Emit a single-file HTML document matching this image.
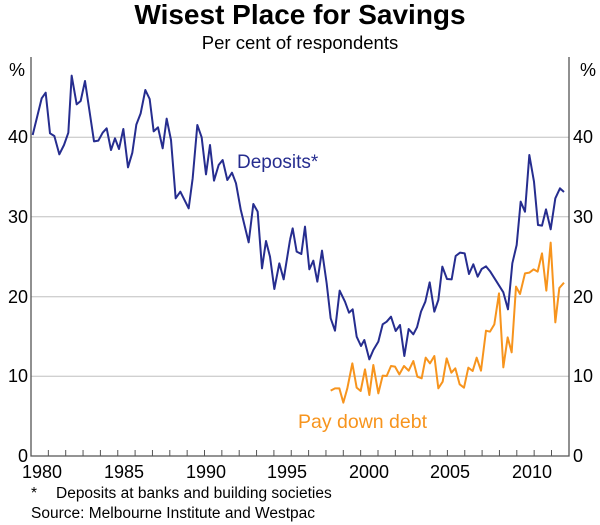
<!DOCTYPE html>
<html><head><meta charset="utf-8"><style>
body{margin:0;background:#fff;}
svg{display:block;font-family:"Liberation Sans",Arial,sans-serif;}
</style></head><body>
<svg width="600" height="525" viewBox="0 0 600 525">
<text x="300" y="24" text-anchor="middle" font-size="28" font-weight="bold" fill="#000">Wisest Place for Savings</text>
<text x="300" y="49" text-anchor="middle" font-size="18.5" fill="#000">Per cent of respondents</text>
<g stroke="#d0d0d0" stroke-width="1.3">
<line x1="31" y1="137.3" x2="569" y2="137.3"/>
<line x1="31" y1="216.7" x2="569" y2="216.7"/>
<line x1="31" y1="296.7" x2="569" y2="296.7"/>
<line x1="31" y1="376.3" x2="569" y2="376.3"/>
</g>
<g stroke="#555" stroke-width="1.3" fill="none">
<polyline points="31,57 31,456 569,456 569,57"/>
</g>
<g stroke="#555" stroke-width="1">
<line x1="48.35" y1="456" x2="48.35" y2="450"/><line x1="65.7" y1="456" x2="65.7" y2="450"/><line x1="83.05" y1="456" x2="83.05" y2="450"/><line x1="100.4" y1="456" x2="100.4" y2="450"/><line x1="117.75" y1="456" x2="117.75" y2="450"/><line x1="135.1" y1="456" x2="135.1" y2="450"/><line x1="152.45" y1="456" x2="152.45" y2="450"/><line x1="169.8" y1="456" x2="169.8" y2="450"/><line x1="187.15" y1="456" x2="187.15" y2="450"/><line x1="204.5" y1="456" x2="204.5" y2="450"/><line x1="221.85" y1="456" x2="221.85" y2="450"/><line x1="239.2" y1="456" x2="239.2" y2="450"/><line x1="256.55" y1="456" x2="256.55" y2="450"/><line x1="273.9" y1="456" x2="273.9" y2="450"/><line x1="291.25" y1="456" x2="291.25" y2="450"/><line x1="308.6" y1="456" x2="308.6" y2="450"/><line x1="325.95" y1="456" x2="325.95" y2="450"/><line x1="343.3" y1="456" x2="343.3" y2="450"/><line x1="360.65" y1="456" x2="360.65" y2="450"/><line x1="378" y1="456" x2="378" y2="450"/><line x1="395.35" y1="456" x2="395.35" y2="450"/><line x1="412.7" y1="456" x2="412.7" y2="450"/><line x1="430.05" y1="456" x2="430.05" y2="450"/><line x1="447.4" y1="456" x2="447.4" y2="450"/><line x1="464.75" y1="456" x2="464.75" y2="450"/><line x1="482.1" y1="456" x2="482.1" y2="450"/><line x1="499.45" y1="456" x2="499.45" y2="450"/><line x1="516.8" y1="456" x2="516.8" y2="450"/><line x1="534.15" y1="456" x2="534.15" y2="450"/><line x1="551.5" y1="456" x2="551.5" y2="450"/>
</g>
<g font-size="18" fill="#000">
<text x="9" y="76">%</text><text x="580" y="76">%</text>
<text x="28" y="143" text-anchor="end">40</text><text x="28" y="223" text-anchor="end">30</text><text x="28" y="303" text-anchor="end">20</text><text x="28" y="382" text-anchor="end">10</text><text x="28" y="462" text-anchor="end">0</text>
<text x="573" y="143">40</text><text x="573" y="223">30</text><text x="573" y="303">20</text><text x="573" y="382">10</text><text x="573" y="462">0</text>
<g text-anchor="middle">
<text x="42" y="478">1980</text><text x="124" y="478">1985</text><text x="206" y="478">1990</text><text x="287" y="478">1995</text><text x="369" y="478">2000</text><text x="450" y="478">2005</text><text x="532" y="478">2010</text>
</g>
</g>
<g font-size="15.5" fill="#000">
<text x="31" y="498">*</text><text x="56" y="498">Deposits at banks and building societies</text>
<text x="31" y="518">Source: Melbourne Institute and Westpac</text>
</g>
<g fill="none" stroke="#262d8f" stroke-width="2" stroke-linejoin="round">
<polyline vector-effect="non-scaling-stroke" transform="translate(0,50) scale(0.33333)" points="98,255 125,145 137,128 150,250 163,258 178,313 192,285 205,248 215,77 230,163 242,153 255,93 268,180 282,274 295,272 308,248 320,235 333,300 345,265 357,297 370,237 384,352 397,308 409,224 422,190 436,120 449,147 461,244 474,232 488,295 500,206 513,270 527,445 541,425 566,475 578,385 592,225 605,262 618,373 630,285 642,392 656,345 668,330 682,390 696,368 708,400 722,478 746,577 760,462 773,485 786,655 798,573 810,620 823,717 838,640 851,688 870,570"/>
<polyline vector-effect="non-scaling-stroke" transform="translate(290,130) scale(0.33333)" points="0,330 8,295 20,365 34,372 45,290 58,418 70,392 82,455 96,362 110,460 122,565 135,602 149,482 165,515 177,548 188,538 200,620 213,648 223,630 238,688 250,660 265,635 278,583 290,575 303,560 317,603 330,585 343,678 356,597 370,613 381,592 393,545 406,515 419,457 433,545 445,510 457,410 471,447 485,448 497,378 510,368 524,370 537,432 550,403 563,440 575,417 588,409 601,425 620,455 640,487 654,538 667,400 680,345 692,215 705,245 718,75 732,155 744,285 756,287 768,238 782,298 796,205 810,175 822,186"/>
</g>
<g fill="none" stroke="#f7941d" stroke-width="2" stroke-linejoin="round">
<polyline vector-effect="non-scaling-stroke" transform="translate(290,130) scale(0.33333)" points="122,782 135,775 148,775 160,818 172,775 187,700 200,773 212,783 225,718 238,795 250,705 265,790 278,737 290,738 303,708 315,710 328,733 342,708 356,722 370,693 382,740 395,745 407,683 420,700 433,678 445,775 458,755 470,685 484,728 496,715 509,763 522,773 535,713 548,723 560,683 573,722 588,602 600,605 613,583 627,490 640,712 653,622 665,667 678,470 690,492 705,430 718,428 731,418 743,425 756,370 769,482 782,338 796,577 808,474 822,458"/>
</g>
<text x="237" y="168" font-size="19" fill="#262d8f">Deposits*</text>
<text x="298" y="428" font-size="19.5" fill="#f7941d">Pay down debt</text>
</svg>
</body></html>
